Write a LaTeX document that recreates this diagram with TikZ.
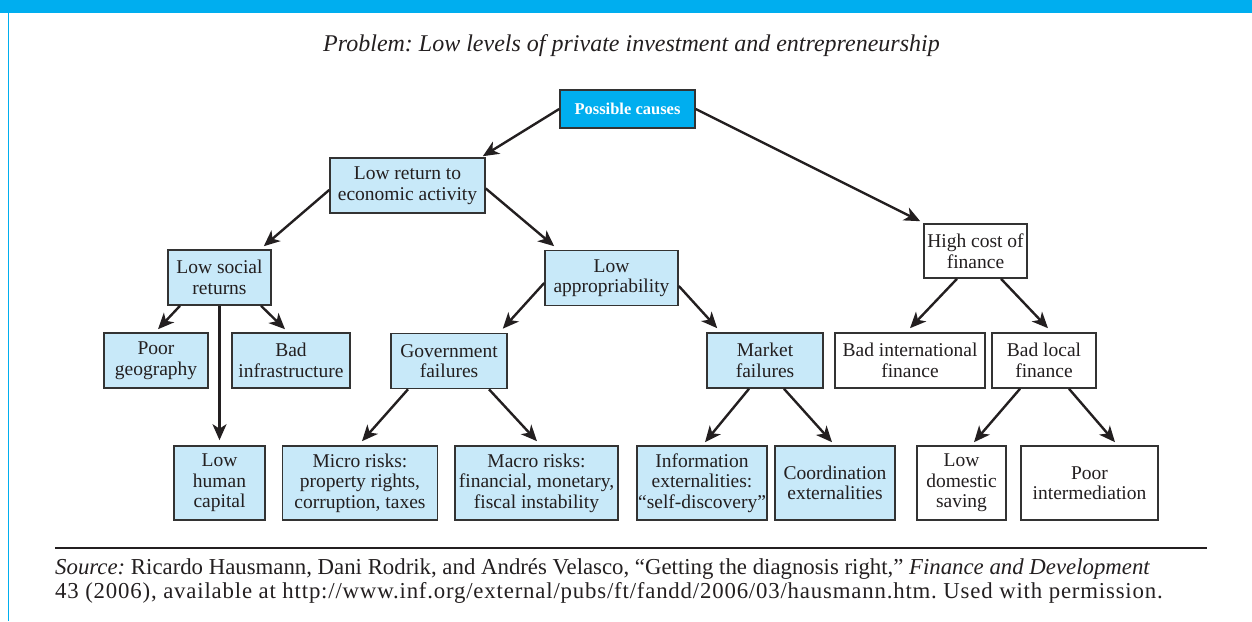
\documentclass[tikz,border=0pt]{standalone}
\usepackage{fontspec}
\setmainfont{Liberation Serif}
\usetikzlibrary{arrows.meta}
\usetikzlibrary{positioning}
\frenchspacing

\definecolor{cyanbar}{HTML}{00AEEF}
\definecolor{paleblue}{HTML}{C8E9F9}
\definecolor{boxline}{HTML}{333333}
\definecolor{ink}{HTML}{231F20}

\begin{document}
\begin{tikzpicture}[x=1pt, y=-1pt,
    box/.style={draw=boxline, line width=1.6pt, fill=paleblue, text=ink, inner sep=0pt,
      align=center, font=\fontsize{19.5}{20.5}\selectfont},
    whitebox/.style={box, fill=white},
    arr/.style={draw=ink, line width=2.4pt, -{Stealth[length=16pt, width=14pt, inset=4.5pt]}}]
      \useasboundingbox (0,0) rectangle (1252,621);

      % frame
      \fill[cyanbar] (0,0) rectangle (1252,12.5);
      \draw[cyanbar, line width=1.2pt] (8.5,12) -- (8.5,621);

      \node[text=ink, font=\fontsize{24}{26}\selectfont\itshape] (title) at (631.5,46)
        {Problem: Low levels of private investment and entrepreneurship};

      % top level
      \node[box, fill=cyanbar, text=white, minimum width=135pt, minimum height=38pt,
        font=\fontsize{16.5}{18}\selectfont\bfseries] (causes) at (627.5,109) {Possible causes};

      \node[box, minimum width=155pt, minimum height=55pt] (lowret) at (407.5,185.5) {Low return to\\economic activity};
      \node[whitebox, minimum width=103pt, minimum height=54pt] (highcost) at (975.5,251) {High cost of\\finance};

      \node[box, minimum width=103pt, minimum height=55pt] (lowsoc) at (219.5,277.5) {Low social\\returns};
      \node[box, minimum width=133pt, minimum height=55pt] (lowapp) at (611.5,278) {Low\\appropriability};

      % middle row
      \node[box, minimum width=104pt, minimum height=55pt] (geog) at (156,360.5) {Poor\\geography};
      \node[box, minimum width=118pt, minimum height=55pt] (infra) at (291,360.5) {Bad\\infrastructure};
      \node[box, minimum width=116pt, minimum height=55pt] (gov) at (449,361) {Government\\failures};
      \node[box, minimum width=116pt, minimum height=55pt] (market) at (765,360.5) {Market\\failures};
      \node[whitebox, minimum width=150pt, minimum height=55pt] (intl) at (910,360.5) {Bad international\\finance};
      \node[whitebox, minimum width=104pt, minimum height=55pt] (local) at (1044,360.5) {Bad local\\finance};

      % bottom row
      \node[box, minimum width=91pt, minimum height=74pt] (human) at (219.5,483) {Low\\human\\capital};
      \node[box, minimum width=155pt, minimum height=74pt] (micro) at (360,483) {Micro risks:\\property rights,\\corruption, taxes};
      \node[box, minimum width=163pt, minimum height=74pt] (macro) at (536.5,483) {Macro risks:\\financial, monetary,\\fiscal instability};
      \node[box, minimum width=130pt, minimum height=74pt] (info) at (702,483) {Information\\externalities:\\``self-discovery''};
      \node[box, minimum width=120pt, minimum height=74pt] (coord) at (835,483) {Coordination\\externalities};
      \node[whitebox, minimum width=89pt, minimum height=74pt] (saving) at (961.5,483) {Low\\domestic\\saving};
      \node[whitebox, minimum width=137pt, minimum height=74pt] (interm) at (1089.5,483) {Poor\\intermediation};

      % arrows
      \draw[arr] (causes.west) -- ([xshift=-3pt, yshift=1pt]lowret.north east);
      \draw[arr] (causes.east) -- ([xshift=-3pt, yshift=2pt]highcost.north west);
      \draw[arr] ([yshift=-4.5pt]lowret.west) -- ([xshift=-8pt, yshift=3pt]lowsoc.north east);
      \draw[arr] ([yshift=-3pt]lowret.east) -- ([xshift=10pt, yshift=3.5pt]lowapp.north west);
      \draw[arr] ([xshift=-39.5pt]lowsoc.south) -- ([xshift=2pt, yshift=3pt]geog.north);
      \draw[arr] ([xshift=41.5pt]lowsoc.south) -- ([xshift=-6pt, yshift=3pt]infra.north);
      \draw[arr] (lowsoc.south) -- ([yshift=5pt]human.north);
      \draw[arr] ([yshift=-5pt]lowapp.west) -- ([xshift=-5pt, yshift=4pt]gov.north east);
      \draw[arr] ([yshift=-8pt]lowapp.east) -- ([xshift=11pt, yshift=4pt]market.north west);
      \draw[arr] ([xshift=-41pt]gov.south) -- ([xshift=2pt, yshift=4pt]micro.north);
      \draw[arr] ([xshift=40pt]gov.south) -- ([xshift=0.5pt, yshift=4pt]macro.north);
      \draw[arr] ([xshift=-16pt]market.south) -- ([xshift=3pt, yshift=3pt]info.north);
      \draw[arr] ([xshift=19pt]market.south) -- ([xshift=-3pt, yshift=3pt]coord.north);
      \draw[arr] ([xshift=-18.5pt]highcost.south) -- ([yshift=4pt]intl.north);
      \draw[arr] ([xshift=25.5pt]highcost.south) -- ([xshift=4pt, yshift=4pt]local.north);
      \draw[arr] ([xshift=-24pt]local.south) -- ([xshift=12.5pt, yshift=3pt]saving.north);
      \draw[arr] ([xshift=25pt]local.south) -- ([xshift=25.5pt, yshift=3pt]interm.north);

      % source
      \draw[ink, line width=1.4pt] (55,548) -- (1207,548);
      \node[anchor=base west, inner sep=0pt, text=ink, font=\fontsize{22.8}{24}\selectfont] (src1) at (55,574)
        {\textit{Source:} Ricardo Hausmann, Dani Rodrik, and Andrés Velasco, ``Getting the diagnosis right,'' \textit{Finance and Development}};
      \node[anchor=base west, inner sep=0pt, text=ink, font=\fontsize{22.8}{24}\selectfont\addfontfeature{LetterSpace=3.6}] (src2) at (55,598)
        {43 (2006), available at http://www.inf.org/external/pubs/ft/fandd/2006/03/hausmann.htm. Used with permission.};
    \end{tikzpicture}
\end{document}
